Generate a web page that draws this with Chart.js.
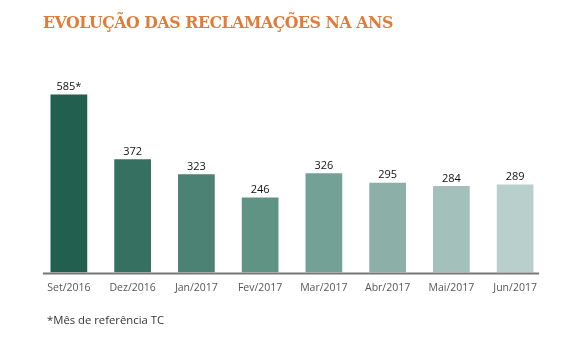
<!DOCTYPE html>
<html>
<head>
<meta charset="utf-8">
<script src="https://cdn.jsdelivr.net/npm/chart.js@4"></script>
<style>
  body { margin: 0; background: #fff; width: 582px; height: 354px; position: relative; overflow: hidden; }
  #title { position: absolute; left: 43px; top: 12px; font-family: "DejaVu Serif Condensed", "DejaVu Serif", serif; font-stretch: condensed; font-weight: bold; font-size: 17.5px; color: #e07b39; white-space: nowrap; letter-spacing: -0.45px; }
  #note { position: absolute; left: 47px; top: 312px; font-family: "Open Sans", sans-serif; font-size: 11.3px; color: #333; }
  #wrap { position: absolute; left: 0; top: 0; width: 582px; height: 354px; }
</style>
</head>
<body>
<div id="wrap"><canvas id="chart1"></canvas></div>
<div id="title">EVOLUÇÃO DAS RECLAMAÇÕES NA ANS</div>
<div id="note">*Mês de referência TC</div>
<script>
// categorias e valores
var months = ["Set/2016", "Dez/2016", "Jan/2017", "Fev/2017", "Mar/2017", "Abr/2017", "Mai/2017", "Jun/2017"];
var complaints = [585, 372, 323, 246, 326, 295, 284, 289];
var valueLabels = ["585*", "372", "323", "246", "326", "295", "284", "289"];
var barColors = ["#225f4f", "#367060", "#4b8273", "#5f9384", "#74a196", "#8cafa7", "#a3c0ba", "#b9cfcb"];

// valores em cima das barras + linha de base
var labelsPlugin = {
  id: "labelsPlugin",
  afterDatasetsDraw: (chart) => {
    var ctx = chart.ctx;
    var meta = chart.getDatasetMeta(0);
    ctx.save();
    ctx.font = "11px 'Open Sans', sans-serif";
    ctx.fillStyle = "#111";
    ctx.textAlign = "center";
    ctx.textBaseline = "bottom";
    meta.data.forEach((bar, i) => {
      ctx.fillText(valueLabels[i], bar.x, bar.y - 2);
    });
    var x = chart.scales.x;
    var y = chart.scales.y.getPixelForValue(0);
    ctx.strokeStyle = "#777";
    ctx.lineWidth = 2;
    ctx.beginPath();
    ctx.moveTo(x.getPixelForValue(0) - 26, y + 1);
    ctx.lineTo(x.getPixelForValue(7) + 24, y + 1);
    ctx.stroke();
    ctx.restore();
  },
};

var ctx = document.getElementById("chart1").getContext("2d");
var myChart = new Chart(ctx, {
  type: "bar",
  data: {
    labels: months,
    datasets: [
      {
        data: complaints,
        backgroundColor: barColors,
        barPercentage: 0.72,
        categoryPercentage: 0.8,
      },
    ],
  },
  options: {
    responsive: true,
    maintainAspectRatio: false,
    animation: false,
    layout: { padding: { left: 37, right: 35, top: 90, bottom: 59 } },
    plugins: { legend: { display: false }, tooltip: { enabled: false } },
    scales: {
      x: {
        grid: { display: false },
        border: { display: false },
        ticks: { color: "#555", font: { family: "'Open Sans', sans-serif", size: 10.5 }, padding: 1, maxRotation: 0 },
      },
      y: { display: false, min: 0, max: 600 },
    },
  },
  plugins: [labelsPlugin],
});
</script>
</body>
</html>
